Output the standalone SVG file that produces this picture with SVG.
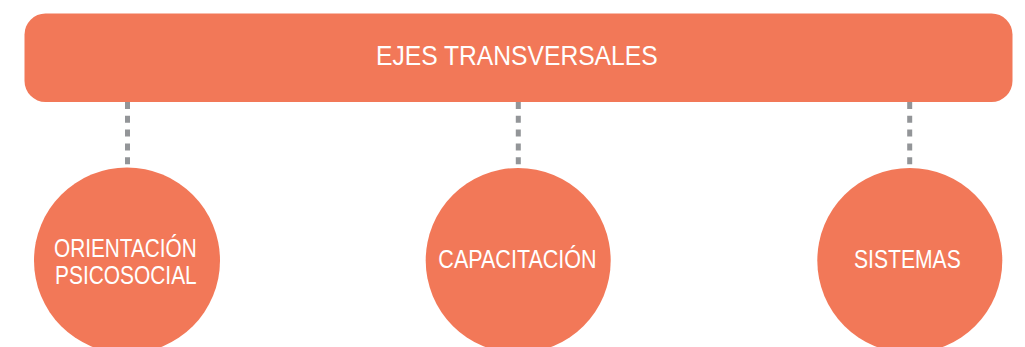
<svg xmlns="http://www.w3.org/2000/svg" width="1025" height="347" viewBox="0 0 1025 347">
  <style>
    .shape { fill: #F27858; }
    .label { fill: #FFFFFF; font-family: "Liberation Sans", Arial, sans-serif; text-anchor: middle; }
    .conn { stroke: #939598; stroke-width: 5; stroke-dasharray: 7 6.8; fill: none; }
  </style>
  <rect width="1025" height="347" fill="#FFFFFF"/>
  <g id="connectors">
    <line class="conn" x1="127.5" y1="102" x2="127.5" y2="165"/>
    <line class="conn" x1="518.3" y1="102" x2="518.3" y2="165"/>
    <line class="conn" x1="909.7" y1="102" x2="909.7" y2="165"/>
  </g>
  <g id="ejes-transversales">
    <rect class="shape" x="24.5" y="13.5" width="988" height="88.5" rx="21" ry="21"/>
    <text class="label" x="516.8" y="65" font-size="28" textLength="281.7" lengthAdjust="spacingAndGlyphs">EJES TRANSVERSALES</text>
  </g>
  <g id="orientacion-psicosocial">
    <circle class="shape" cx="127" cy="260.5" r="93"/>
    <text class="label" x="125.4" y="256.7" font-size="25.6" textLength="142.7" lengthAdjust="spacingAndGlyphs">ORIENTACIÓN</text>
    <text class="label" x="125.9" y="284.3" font-size="25.6" textLength="141.7" lengthAdjust="spacingAndGlyphs">PSICOSOCIAL</text>
  </g>
  <g id="capacitacion">
    <circle class="shape" cx="518.2" cy="260.5" r="92.5"/>
    <text class="label" x="517.5" y="268.3" font-size="25.6" textLength="158.3" lengthAdjust="spacingAndGlyphs">CAPACITACIÓN</text>
  </g>
  <g id="sistemas">
    <circle class="shape" cx="909.8" cy="260.5" r="92.5"/>
    <text class="label" x="907.4" y="268.3" font-size="25.6" textLength="106.7" lengthAdjust="spacingAndGlyphs">SISTEMAS</text>
  </g>
</svg>
